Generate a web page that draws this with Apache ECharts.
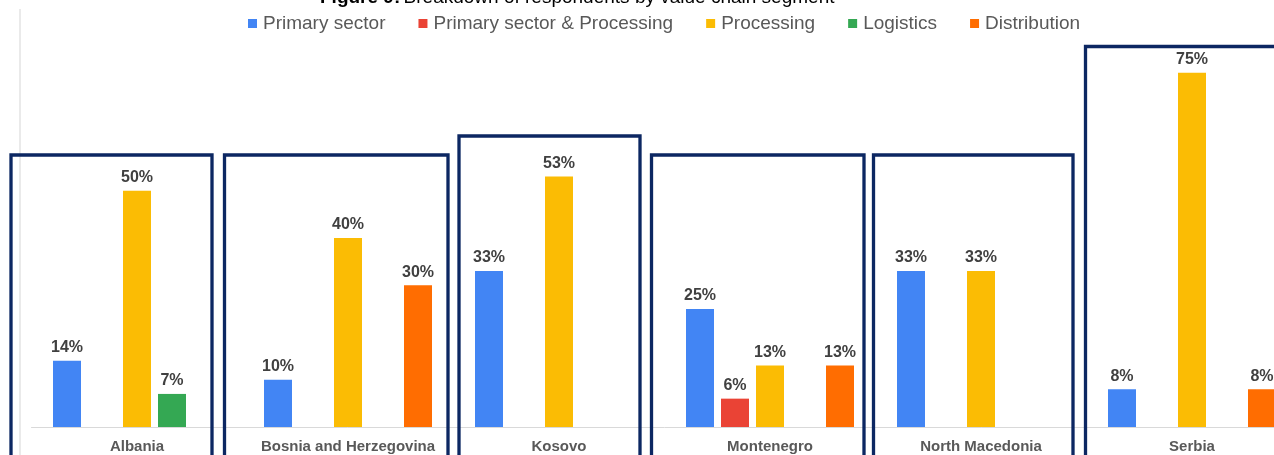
<!DOCTYPE html>
<html>
<head>
<meta charset="utf-8">
<script src="https://cdn.jsdelivr.net/npm/echarts@6/dist/echarts.min.js"></script>
<style>
  html, body { margin: 0; padding: 0; background: #ffffff; overflow: hidden; }
  #chart { width: 1300px; height: 455px; }
</style>
</head>
<body>
<div id="chart"></div>
<script>
// Countries on the category axis
const countries = ['Albania', 'Bosnia and Herzegovina', 'Kosovo', 'Montenegro', 'North Macedonia', 'Serbia'];

// Share of respondents (%) per value chain segment; null = no respondents
const primarySector = [14, 10, 33, 25, 33, 8];
const primaryAndProcessing = [null, null, null, 6, null, null];
const processing = [50, 40, 53, 13, 33, 75];
const logistics = [7, null, null, null, null, null];
const distribution = [null, 30, null, 13, null, 8];

const segmentNames = ['Primary sector', 'Primary sector & Processing', 'Processing', 'Logistics', 'Distribution'];
const segmentColors = ['#4285F4', '#EA4335', '#FBBC04', '#34A853', '#FF6D01'];
const segmentValues = [primarySector, primaryAndProcessing, processing, logistics, distribution];

// Frames drawn around each country group (stroke centre lines, px)
const frames = [
  { x1: 11, x2: 212, top: 155 },
  { x1: 224.5, x2: 448, top: 155 },
  { x1: 459, x2: 640, top: 136 },
  { x1: 651.5, x2: 864, top: 155 },
  { x1: 873.5, x2: 1073, top: 155 },
  { x1: 1085.5, x2: 1290, top: 46.5 }
];

const chart = echarts.init(document.getElementById('chart'), null, { renderer: 'canvas' });

const series = segmentNames.map((name, i) => ({
  name: name,
  type: 'bar',
  data: segmentValues[i],
  barWidth: 28,
  barGap: '25%',
  itemStyle: { color: segmentColors[i] },
  label: {
    show: true,
    position: 'top',
    distance: 5,
    formatter: p => (p.value == null ? '' : p.value + '%'),
    fontFamily: 'Liberation Sans, Arial, sans-serif',
    fontWeight: 'bold',
    fontSize: 16,
    color: '#404040'
  },
  emphasis: { disabled: true },
  animation: false
}));

const graphics = [
  {
    type: 'line',
    shape: { x1: 20, y1: 9, x2: 20, y2: 455 },
    style: { stroke: '#e3e3e3', lineWidth: 1.5 },
    z: 0
  },
  {
    type: 'text',
    left: 320,
    top: -12,
    style: {
      text: '{b|Figure 9:} {r|Breakdown of respondents by value chain segment}',
      rich: {
        b: { fontFamily: 'Liberation Sans, Arial, sans-serif', fontWeight: 'bold', fontSize: 19, fill: '#000000' },
        r: { fontFamily: 'Liberation Sans, Arial, sans-serif', fontSize: 19, fill: '#000000' }
      }
    }
  }
].concat(frames.map(f => ({
  type: 'polyline',
  shape: { points: [[f.x1, 470], [f.x1, f.top], [f.x2, f.top], [f.x2, 470]] },
  style: { stroke: '#0c2762', lineWidth: 3.3, fill: null },
  z: 10
})));

chart.setOption({
  animation: false,
  backgroundColor: '#ffffff',
  legend: {
    top: 9,
    left: 243,
    itemWidth: 9,
    itemHeight: 9,
    itemGap: 33,
    icon: 'rect',
    selectedMode: false,
    textStyle: {
      fontFamily: 'Liberation Sans, Arial, sans-serif',
      fontSize: 19,
      color: '#595959',
      padding: [0, 0, 0, 1]
    },
    data: segmentNames
  },
  grid: { left: 31.5, width: 1266, top: 49, bottom: 28, containLabel: false },
  xAxis: {
    type: 'category',
    data: countries,
    axisLine: { show: true, lineStyle: { color: '#d9d9d9', width: 1 } },
    axisTick: { show: false },
    axisLabel: {
      interval: 0,
      margin: 12,
      fontFamily: 'Liberation Sans, Arial, sans-serif',
      fontWeight: 'bold',
      fontSize: 15,
      color: '#595959'
    }
  },
  yAxis: {
    type: 'value',
    min: 0,
    max: 80,
    show: false,
    splitLine: { show: false }
  },
  series: series,
  graphic: graphics
});
</script>
</body>
</html>
